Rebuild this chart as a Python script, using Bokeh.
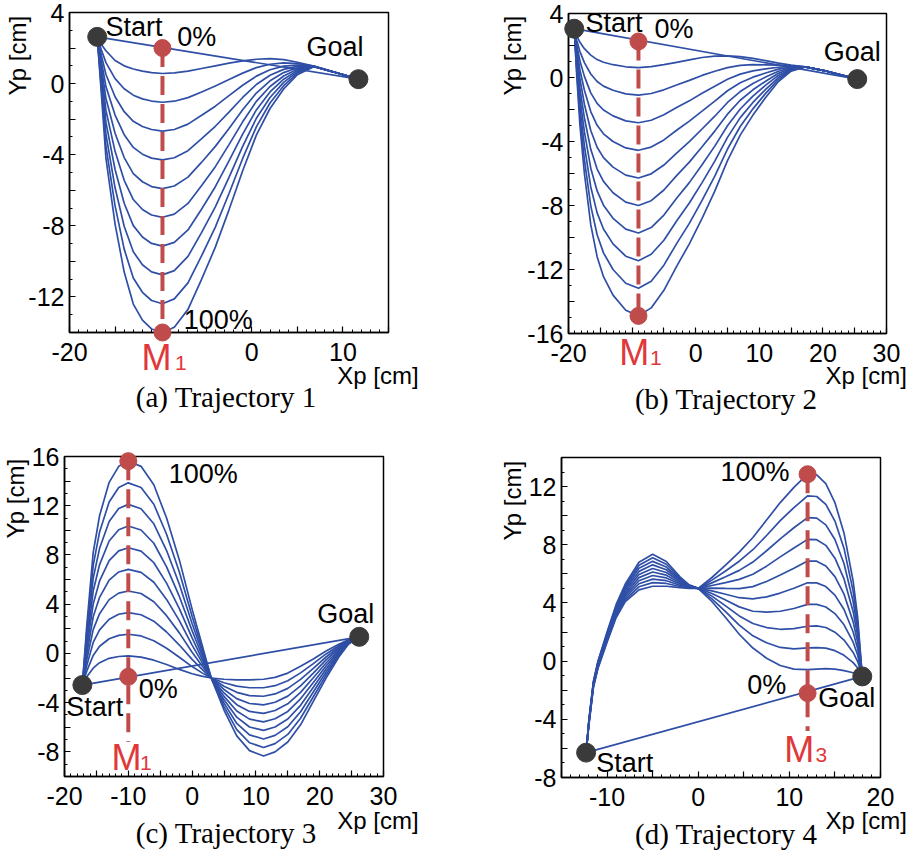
from bokeh.plotting import figure
from bokeh.layouts import row, column
from bokeh.models import Label, FixedTicker, CustomJSTickFormatter, Range1d, LinearAxis
from bokeh.embed import file_html
from bokeh.resources import INLINE
import math

# ---------------- data ----------------
# Trajectory 1
a_x = [-16.96, -16.5, -16, -15, -14, -13, -12, -11, -9.8, -8.5, -7, -5.5, -4, -2.5, -1, 0.5, 2, 3.5, 5, 6.8, 9, 11.7]
a_y10 = [2.63, 2.2, 1.85, 1.3, 1.0, 0.82, 0.7, 0.62, 0.57, 0.6, 0.7, 0.85, 1.0, 1.15, 1.28, 1.37, 1.4, 1.35, 1.2, 0.98, 0.65, 0.25]
a_y20 = [2.63, 1.89, 1.18, 0.28, -0.29, -0.65, -0.86, -0.98, -1.05, -0.99, -0.79, -0.47, -0.13, 0.23, 0.59, 0.9, 1.09, 1.17, 1.12, 0.98, 0.65, 0.25]
a_y30 = [2.63, 1.58, 0.51, -0.74, -1.58, -2.12, -2.41, -2.58, -2.67, -2.58, -2.28, -1.78, -1.27, -0.68, -0.09, 0.42, 0.78, 0.98, 1.04, 0.97, 0.65, 0.25]
a_y40 = [2.63, 1.27, -0.17, -1.77, -2.87, -3.59, -3.97, -4.19, -4.29, -4.17, -3.77, -3.1, -2.4, -1.6, -0.78, -0.05, 0.47, 0.8, 0.97, 0.97, 0.65, 0.25]
a_y50 = [2.63, 0.96, -0.84, -2.79, -4.16, -5.06, -5.52, -5.79, -5.91, -5.76, -5.26, -4.42, -3.53, -2.52, -1.47, -0.53, 0.16, 0.62, 0.89, 0.97, 0.65, 0.25]
a_y60 = [2.63, 0.64, -1.51, -3.81, -5.44, -6.52, -7.08, -7.39, -7.52, -7.34, -6.74, -5.73, -4.67, -3.43, -2.15, -1.0, -0.16, 0.43, 0.81, 0.97, 0.65, 0.25]
a_y70 = [2.63, 0.33, -2.18, -4.83, -6.73, -7.99, -8.63, -8.99, -9.14, -8.93, -8.23, -7.05, -5.8, -4.35, -2.84, -1.48, -0.47, 0.25, 0.73, 0.96, 0.65, 0.25]
a_y80 = [2.63, 0.02, -2.85, -5.86, -8.02, -9.46, -10.19, -10.59, -10.76, -10.52, -9.72, -8.37, -6.93, -5.27, -3.53, -1.95, -0.78, 0.07, 0.66, 0.96, 0.65, 0.25]
a_y90 = [2.63, -0.29, -3.53, -6.88, -9.31, -10.93, -11.74, -12.2, -12.38, -12.11, -11.21, -9.68, -8.07, -6.18, -4.21, -2.43, -1.09, -0.12, 0.58, 0.96, 0.65, 0.25]
a_y100 = [2.63, -0.6, -4.2, -7.9, -10.6, -12.4, -13.3, -13.8, -14.0, -13.7, -12.7, -11.0, -9.2, -7.1, -4.9, -2.9, -1.4, -0.3, 0.5, 0.95, 0.65, 0.25]
a_start = [-16.96, 2.63]
a_goal = [11.7, 0.25]
a_via_x = -9.8
a_via_y = [2.0, -14.0]
a_xlim = [-20, 15]
a_ylim = [-14, 4]
a_xticks = [-20, -15, -10, -5, 0, 5, 10, 15]
a_xlabels = [-20, 0, 10]
a_yticks = [-14, -12, -10, -8, -6, -4, -2, 0, 2, 4]
a_ylabels = [4, 0, -4, -8, -12]

# Trajectory 2
b_x = [-19.1, -18.7, -18.2, -17.5, -16.5, -15.5, -14.5, -13, -11, -9, -7, -5, -3, -1, 1, 3, 5, 7, 9, 11, 13, 15, 17.2, 20, 25.4]
b_y10 = [3.05, 2.6, 2.2, 1.8, 1.4, 1.12, 0.95, 0.8, 0.67, 0.62, 0.68, 0.8, 0.95, 1.1, 1.25, 1.33, 1.35, 1.3, 1.2, 1.05, 0.9, 0.77, 0.66, 0.45, -0.1]
b_y20 = [3.05, 2.32, 1.62, 0.93, 0.22, -0.25, -0.54, -0.8, -1.02, -1.1, -1.0, -0.77, -0.47, -0.18, 0.13, 0.39, 0.62, 0.76, 0.81, 0.79, 0.77, 0.73, 0.66, 0.45, -0.1]
b_y30 = [3.05, 2.04, 1.04, 0.07, -0.96, -1.62, -2.03, -2.4, -2.71, -2.83, -2.67, -2.33, -1.88, -1.46, -0.98, -0.54, -0.11, 0.21, 0.41, 0.54, 0.64, 0.69, 0.66, 0.45, -0.1]
b_y40 = [3.05, 1.77, 0.47, -0.8, -2.13, -2.99, -3.52, -4.0, -4.4, -4.55, -4.35, -3.9, -3.3, -2.73, -2.1, -1.48, -0.83, -0.33, 0.02, 0.28, 0.52, 0.65, 0.66, 0.45, -0.1]
b_y50 = [3.05, 1.49, -0.11, -1.67, -3.31, -4.36, -5.01, -5.6, -6.1, -6.28, -6.02, -5.47, -4.72, -4.01, -3.22, -2.42, -1.56, -0.88, -0.38, 0.03, 0.39, 0.61, 0.66, 0.45, -0.1]
b_y60 = [3.05, 1.21, -0.69, -2.53, -4.49, -5.72, -6.49, -7.2, -7.79, -8.0, -7.7, -7.03, -6.13, -5.29, -4.33, -3.35, -2.29, -1.42, -0.77, -0.23, 0.26, 0.56, 0.66, 0.45, -0.1]
b_y70 = [3.05, 0.93, -1.27, -3.4, -5.67, -7.09, -7.98, -8.8, -9.48, -9.72, -9.38, -8.6, -7.55, -6.57, -5.45, -4.29, -3.02, -1.97, -1.17, -0.48, 0.13, 0.52, 0.66, 0.45, -0.1]
b_y80 = [3.05, 0.66, -1.84, -4.27, -6.84, -8.46, -9.47, -10.4, -11.17, -11.45, -11.05, -10.17, -8.97, -7.84, -6.57, -5.23, -3.74, -2.51, -1.56, -0.74, 0.0, 0.48, 0.66, 0.45, -0.1]
b_y90 = [3.05, 0.38, -2.42, -5.13, -8.02, -9.83, -10.96, -12.0, -12.86, -13.17, -12.73, -11.73, -10.38, -9.12, -7.68, -6.16, -4.47, -3.06, -1.96, -0.99, -0.12, 0.44, 0.66, 0.45, -0.1]
b_y100 = [3.05, 0.1, -3.0, -6.0, -9.2, -11.2, -12.45, -13.6, -14.55, -14.9, -14.4, -13.3, -11.8, -10.4, -8.8, -7.1, -5.2, -3.6, -2.35, -1.25, -0.25, 0.4, 0.66, 0.45, -0.1]
b_start = [-19.1, 3.05]
b_goal = [25.4, -0.1]
b_via_x = -9.0
b_via_y = [2.25, -14.9]
b_xlim = [-20, 30]
b_ylim = [-16, 4]
b_xticks = [-20, -15, -10, -5, 0, 5, 10, 15, 20, 25, 30]
b_xlabels = [-20, 0, 10, 20, 30]
b_yticks = [-16, -14, -12, -10, -8, -6, -4, -2, 0, 2, 4]
b_ylabels = [4, 0, -4, -8, -12, -16]

# Trajectory 3
c_x = [-17.2, -16.5, -15.5, -14.5, -13, -11.5, -10, -8, -6, -4, -2, 0, 1.5, 3, 5, 7, 9, 11.2, 13, 15, 17, 19, 21, 23, 24.5, 26.2]
c_y10 = [-2.57, -1.9, -1.2, -0.75, -0.4, -0.25, -0.2, -0.3, -0.55, -0.9, -1.3, -1.65, -1.85, -2.0, -2.1, -2.15, -2.15, -2.1, -1.95, -1.6, -1.05, -0.45, 0.2, 0.75, 1.1, 1.35]
c_y20 = [-2.57, -1.43, -0.16, 0.58, 1.19, 1.47, 1.56, 1.42, 1.03, 0.42, -0.31, -1.07, -1.56, -2.0, -2.38, -2.66, -2.79, -2.79, -2.62, -2.22, -1.58, -0.83, -0.04, 0.63, 1.06, 1.35]
c_y30 = [-2.57, -0.97, 0.89, 1.91, 2.78, 3.18, 3.32, 3.14, 2.62, 1.74, 0.68, -0.48, -1.26, -2.0, -2.66, -3.16, -3.43, -3.48, -3.29, -2.84, -2.11, -1.22, -0.29, 0.52, 1.02, 1.35]
c_y40 = [-2.57, -0.5, 1.93, 3.23, 4.37, 4.9, 5.07, 4.87, 4.2, 3.07, 1.67, 0.1, -0.97, -2.0, -2.93, -3.67, -4.07, -4.18, -3.97, -3.47, -2.63, -1.6, -0.53, 0.4, 0.98, 1.35]
c_y50 = [-2.57, -0.03, 2.98, 4.56, 5.96, 6.62, 6.83, 6.59, 5.78, 4.39, 2.66, 0.68, -0.67, -2.0, -3.21, -4.17, -4.71, -4.87, -4.64, -4.09, -3.16, -1.98, -0.78, 0.28, 0.94, 1.35]
c_y60 = [-2.57, 0.43, 4.02, 5.89, 7.54, 8.33, 8.59, 8.31, 7.37, 5.71, 3.64, 1.27, -0.38, -2.0, -3.49, -4.68, -5.34, -5.56, -5.31, -4.71, -3.69, -2.37, -1.02, 0.17, 0.91, 1.35]
c_y70 = [-2.57, 0.9, 5.07, 7.22, 9.13, 10.05, 10.35, 10.03, 8.95, 7.03, 4.63, 1.85, -0.09, -2.0, -3.77, -5.18, -5.98, -6.25, -5.98, -5.33, -4.22, -2.75, -1.27, 0.05, 0.87, 1.35]
c_y80 = [-2.57, 1.37, 6.11, 8.54, 10.72, 11.77, 12.11, 11.76, 10.53, 8.36, 5.62, 2.43, 0.21, -2.0, -4.04, -5.69, -6.62, -6.95, -6.66, -5.96, -4.74, -3.13, -1.51, -0.07, 0.83, 1.35]
c_y90 = [-2.57, 1.83, 7.16, 9.87, 12.31, 13.48, 13.86, 13.48, 12.12, 9.68, 6.61, 3.02, 0.5, -2.0, -4.32, -6.19, -7.26, -7.64, -7.33, -6.58, -5.27, -3.52, -1.76, -0.18, 0.79, 1.35]
c_y100 = [-2.57, 2.3, 8.2, 11.2, 13.9, 15.2, 15.62, 15.2, 13.7, 11.0, 7.6, 3.6, 0.8, -2.0, -4.6, -6.7, -7.9, -8.33, -8.0, -7.2, -5.8, -3.9, -2.0, -0.3, 0.75, 1.35]
c_start = [-17.2, -2.57]
c_goal = [26.2, 1.35]
c_via_x = -10.0
c_via_y = [-1.9, 15.62]
c_xlim = [-20, 30]
c_ylim = [-10, 16]
c_xticks = [-20, -15, -10, -5, 0, 5, 10, 15, 20, 25, 30]
c_xlabels = [-20, -10, 0, 10, 20, 30]
c_yticks = [-10, -8, -6, -4, -2, 0, 2, 4, 6, 8, 10, 12, 14, 16]
c_ylabels = [16, 12, 8, 4, 0, -4, -8]

# Trajectory 4
d_x = [-12.3, -12.0, -11.5, -11, -10, -9, -8, -6.5, -5, -3.5, -2, -1, 0, 1.5, 3, 4.5, 6, 7.5, 9, 10.5, 12, 13, 14, 15, 16, 17, 17.5, 18]
d_y10 = [-6.29, -4.1, -1.4, 0.0, 2.0, 3.9, 5.3, 6.8, 7.35, 6.85, 5.8, 5.25, 5.0, 4.1, 3.0, 1.85, 0.9, 0.2, -0.3, -0.55, -0.58, -0.55, -0.52, -0.55, -0.65, -0.8, -0.9, -1.05]
d_y20 = [-6.29, -4.13, -1.44, -0.06, 1.92, 3.8, 5.17, 6.59, 7.11, 6.66, 5.72, 5.22, 5.0, 4.28, 3.4, 2.48, 1.74, 1.26, 0.94, 0.84, 0.91, 0.93, 0.89, 0.72, 0.4, -0.1, -0.47, -1.05]
d_y30 = [-6.29, -4.17, -1.49, -0.11, 1.84, 3.7, 5.03, 6.38, 6.86, 6.47, 5.63, 5.19, 5.0, 4.47, 3.8, 3.11, 2.59, 2.31, 2.19, 2.23, 2.4, 2.42, 2.31, 1.99, 1.45, 0.6, -0.03, -1.05]
d_y40 = [-6.29, -4.2, -1.53, -0.17, 1.77, 3.6, 4.9, 6.17, 6.62, 6.28, 5.55, 5.17, 5.0, 4.65, 4.2, 3.73, 3.43, 3.37, 3.43, 3.62, 3.9, 3.9, 3.72, 3.27, 2.5, 1.3, 0.4, -1.05]
d_y50 = [-6.29, -4.23, -1.58, -0.22, 1.69, 3.5, 4.77, 5.96, 6.37, 6.09, 5.47, 5.14, 5.0, 4.83, 4.6, 4.36, 4.28, 4.42, 4.68, 5.01, 5.39, 5.38, 5.13, 4.54, 3.55, 2.0, 0.83, -1.05]
d_y60 = [-6.29, -4.27, -1.62, -0.28, 1.61, 3.4, 4.63, 5.74, 6.13, 5.91, 5.38, 5.11, 5.0, 5.02, 5.0, 4.99, 5.12, 5.48, 5.92, 6.39, 6.88, 6.87, 6.54, 5.81, 4.6, 2.7, 1.27, -1.05]
d_y70 = [-6.29, -4.3, -1.67, -0.33, 1.53, 3.3, 4.5, 5.53, 5.89, 5.72, 5.3, 5.08, 5.0, 5.2, 5.4, 5.62, 5.97, 6.53, 7.17, 7.78, 8.37, 8.35, 7.96, 7.08, 5.65, 3.4, 1.7, -1.05]
d_y80 = [-6.29, -4.33, -1.71, -0.39, 1.46, 3.2, 4.37, 5.32, 5.64, 5.53, 5.22, 5.06, 5.0, 5.38, 5.8, 6.24, 6.81, 7.59, 8.41, 9.17, 9.87, 9.83, 9.37, 8.36, 6.7, 4.1, 2.13, -1.05]
d_y90 = [-6.29, -4.37, -1.76, -0.44, 1.38, 3.1, 4.23, 5.11, 5.4, 5.34, 5.13, 5.03, 5.0, 5.57, 6.2, 6.87, 7.66, 8.64, 9.66, 10.56, 11.36, 11.32, 10.78, 9.63, 7.75, 4.8, 2.57, -1.05]
d_y100 = [-6.29, -4.4, -1.8, -0.5, 1.3, 3.0, 4.1, 4.9, 5.15, 5.15, 5.05, 5.0, 5.0, 5.75, 6.6, 7.5, 8.5, 9.7, 10.9, 11.95, 12.85, 12.8, 12.2, 10.9, 8.8, 5.5, 3.0, -1.05]
d_start = [-12.3, -6.29]
d_goal = [18.0, -1.05]
d_via_x = 12.0
d_via_y = [-2.2, 12.85]
d_xlim = [-15, 20]
d_ylim = [-8, 14]
d_xticks = [-15, -10, -5, 0, 5, 10, 15, 20]
d_xlabels = [-10, 0, 10, 20]
d_yticks = [-8, -6, -4, -2, 0, 2, 4, 6, 8, 10, 12, 14]
d_ylabels = [12, 8, 4, 0, -4, -8]

# ---------------- styling ----------------
CURVE = "#2f4fa6"
DOT = "#3a3a3a"
VIA = "#bf4b4b"
MRED = "#e0383a"
SANS = "Liberation Sans"
SERIF = "Liberation Serif"


class Panel:
    def __init__(self, fx, fy, fig_w, fig_h, box_l, box_t, box_w, box_h, xlim, ylim,
                 xticks, xlabels, yticks, ylabels):
        self.fx, self.fy = fx, fy
        self.ux = box_w / (xlim[1] - xlim[0])
        self.uy = box_h / (ylim[1] - ylim[0])
        self.xs0 = xlim[0] - box_l / self.ux
        xs1 = self.xs0 + fig_w / self.ux
        self.ys1 = ylim[1] + box_t / self.uy
        ys0 = self.ys1 - fig_h / self.uy
        p = figure(width=fig_w, height=fig_h, x_range=Range1d(self.xs0, xs1),
                   y_range=Range1d(ys0, self.ys1),
                   x_axis_location=None, y_axis_location=None, min_border=0,
                   output_backend="svg", toolbar_location=None,
                   background_fill_color="white", border_fill_color="white")
        p.outline_line_color = None
        p.grid.visible = False
        xminor = list(range(xlim[0], xlim[1] + 1))
        yminor = list(range(ylim[0], ylim[1] + 1))
        code = "return show.includes(tick) ? String(tick) : '';"
        xa = LinearAxis(fixed_location=ylim[0], bounds=tuple(xlim),
                        ticker=FixedTicker(ticks=xticks, minor_ticks=xminor),
                        formatter=CustomJSTickFormatter(args=dict(show=xlabels), code=code))
        ya = LinearAxis(fixed_location=xlim[0], bounds=tuple(ylim),
                        ticker=FixedTicker(ticks=yticks, minor_ticks=yminor),
                        formatter=CustomJSTickFormatter(args=dict(show=ylabels), code=code))
        for ax in (xa, ya):
            ax.axis_line_color = "black"
            ax.axis_line_width = 1.5
            ax.major_tick_in = 6
            ax.major_tick_out = 0
            ax.minor_tick_in = 3
            ax.minor_tick_out = 0
            ax.major_tick_line_color = "black"
            ax.minor_tick_line_color = "black"
            ax.major_tick_line_width = 1.2
            ax.minor_tick_line_width = 1
            ax.major_label_text_font = SANS
            ax.major_label_text_font_size = "25px"
            ax.major_label_text_color = "black"
        xa.major_label_standoff = 10
        ya.major_label_standoff = 5
        p.add_layout(xa, "below")
        p.add_layout(ya, "left")
        p.quad(left=[xlim[0]], right=[xlim[1]], bottom=[ylim[0]], top=[ylim[1]],
               fill_color=None, line_color="black", line_width=1.5)
        self.p = p

    def draw(self, xs, curves, start, goal, via_x, via_y, dash_lo, dash_hi):
        p = self.p
        p.multi_line(xs=[xs] * len(curves), ys=curves, line_color=CURVE, line_width=1.7)
        p.line([start[0], goal[0]], [start[1], goal[1]], line_color=CURVE, line_width=1.7)
        p.segment(x0=[via_x], y0=[dash_hi], x1=[via_x], y1=[dash_lo],
                  line_color=VIA, line_width=4, line_dash="19 9")
        p.scatter([start[0], goal[0]], [start[1], goal[1]], size=19, color=DOT, level="overlay")
        p.scatter([via_x, via_x], via_y, size=17, color=VIA, level="overlay")

    def text(self, px, py, text, size=27, color="black", align="left", font=SANS, angle=0.0):
        # px, py: page pixel position of the text anchor (left/center, vertical middle)
        x = self.xs0 + (px - self.fx) / self.ux
        y = self.ys1 - (py - self.fy) / self.uy
        self.p.add_layout(Label(x=x, y=y, text=text, text_font=font,
                                text_font_size="%dpx" % size, text_color=color,
                                text_align=align, text_baseline="middle", angle=angle))


# (a)
A = Panel(0, 0, 430, 440, 69, 12, 319, 320, a_xlim, a_ylim, a_xticks, a_xlabels, a_yticks, a_ylabels)
A.draw(a_x, [a_y10, a_y20, a_y30, a_y40, a_y50, a_y60, a_y70, a_y80, a_y90, a_y100],
       a_start, a_goal, a_via_x, a_via_y, -14.0, 2.0)
A.text(105, 26.3, "Start")
A.text(176.7, 36.5, "0%")
A.text(306, 46.5, "Goal")
A.text(183.3, 319.8, "100%")
A.text(141, 356.9, "M", size=36, color=MRED)
A.text(174.4, 362.2, "1", size=21, color=MRED)
A.text(336.7, 374.9, "Xp [cm]", size=24)
A.text(16.6, 95, "Yp [cm]", size=24, angle=math.pi / 2)
A.text(225.8, 396.9, "(a) Trajectory 1", size=29, align="center", font=SERIF)

# (b)
B = Panel(430, 0, 484, 440, 138, 13, 318, 320, b_xlim, b_ylim, b_xticks, b_xlabels, b_yticks, b_ylabels)
B.draw(b_x, [b_y10, b_y20, b_y30, b_y40, b_y50, b_y60, b_y70, b_y80, b_y90, b_y100],
       b_start, b_goal, b_via_x, b_via_y, -14.9, 2.25)
B.text(585, 22.2, "Start")
B.text(654, 28.8, "0%")
B.text(823.3, 51.5, "Goal")
B.text(618.7, 352.4, "M", size=36, color=MRED)
B.text(649.4, 357.7, "1", size=21, color=MRED)
B.text(825, 374.9, "Xp [cm]", size=24)
B.text(511.6, 95, "Yp [cm]", size=24, angle=math.pi / 2)
B.text(725.7, 398.5, "(b) Trajectory 2", size=29, align="center", font=SERIF)

# (c)
C = Panel(0, 440, 430, 413, 64, 16, 319, 320, c_xlim, c_ylim, c_xticks, c_xlabels, c_yticks, c_ylabels)
C.draw(c_x, [c_y10, c_y20, c_y30, c_y40, c_y50, c_y60, c_y70, c_y80, c_y90, c_y100],
       c_start, c_goal, c_via_x, c_via_y, -7.2, 15.62)
C.text(168.3, 473.2, "100%")
C.text(316.7, 613.8, "Goal")
C.text(138.3, 688.8, "0%")
C.text(65.7, 706.5, "Start")
C.text(111, 757.4, "M", size=36, color=MRED)
C.text(139.4, 762.7, "1", size=21, color=MRED)
C.text(336.7, 819.9, "Xp [cm]", size=24)
C.text(15.1, 538, "Yp [cm]", size=24, angle=math.pi / 2)
C.text(225.8, 832.5, "(c) Trajectory 3", size=29, align="center", font=SERIF)

# (d)
D = Panel(430, 440, 484, 413, 131, 17, 319, 320, d_xlim, d_ylim, d_xticks, d_xlabels, d_yticks, d_ylabels)
D.draw(d_x, [d_y10, d_y20, d_y30, d_y40, d_y50, d_y60, d_y70, d_y80, d_y90, d_y100],
       d_start, d_goal, d_via_x, d_via_y, -4.8, 12.85)
D.text(720, 471.2, "100%")
D.text(746.7, 684.8, "0%")
D.text(817.7, 697.8, "Goal")
D.text(595.7, 762.2, "Start")
D.text(783.7, 749.1, "M", size=36, color=MRED)
D.text(815, 754.4, "3", size=21, color=MRED)
D.text(825, 819.9, "Xp [cm]", size=24)
D.text(511.6, 540, "Yp [cm]", size=24, angle=math.pi / 2)
D.text(725.8, 833.5, "(d) Trajectory 4", size=29, align="center", font=SERIF)

layout = column(row(A.p, B.p), row(C.p, D.p))
open("out.html", "w").write(file_html(layout, INLINE))
